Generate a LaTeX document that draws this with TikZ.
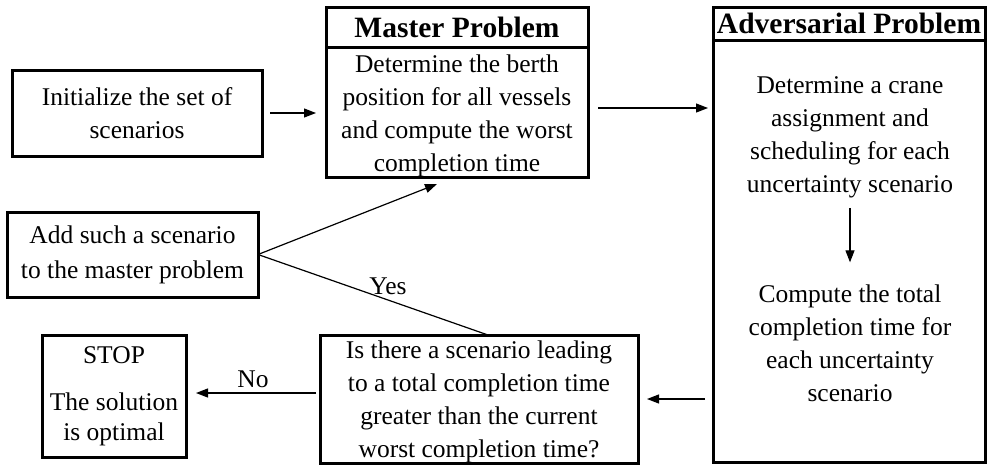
\documentclass[tikz,border=0pt]{standalone}
\usepackage{fontspec}
\setmainfont{Liberation Serif}
\usetikzlibrary{positioning,arrows.meta}

\begin{document}
\begin{tikzpicture}[x=1pt,y=-1pt,
  box/.style={draw,line width=3pt,outer sep=0pt,inner sep=0pt,align=center,
    font=\fontsize{25.5}{33}\selectfont},
  titlebox/.style={box,font=\fontsize{29.5}{33}\bfseries\selectfont},
  txt/.style={inner sep=0pt,align=center,font=\fontsize{25.5}{33}\selectfont},
  arr/.style={-{Triangle[length=12pt,width=9pt]},line width=1.2pt},
  plain/.style={line width=1.2pt}]
  \useasboundingbox (0,0) rectangle (987,466);
  \node[box,minimum width=250pt,minimum height=86pt] (init) at (137,113)
    {Initialize the set of\\scenarios};
  \node[titlebox,minimum width=262pt,minimum height=40pt] (mtitle) at (457,27) {Master Problem};
  \node[box,minimum width=262pt,minimum height=130pt,below=0pt of mtitle] (mbody) {};
  \node[txt] (mtext) at ([yshift=-4pt]mbody.center)
    {Determine the berth\\position for all vessels\\and compute the worst\\completion time};
  \node[titlebox,minimum width=272pt,minimum height=33pt] (atitle) at (849,23.5) {Adversarial Problem};
  \node[box,minimum width=272pt,minimum height=422pt,below=0pt of atitle] (abody) {};
  \node[txt] (crane) at (850,137)
    {Determine a crane\\assignment and\\scheduling for each\\uncertainty scenario};
  \node[txt] (total) at (850,343)
    {Compute the total\\completion time for\\each uncertainty\\scenario};
  \node[box,minimum width=251pt,minimum height=85pt] (add) at (132.5,254.5)
    {Add such a scenario\\[2pt]to the master problem};
  \node[box,minimum width=318pt,minimum height=128pt] (quest) at (479,399) {};
  \node[txt] (qtext) at ([yshift=-3pt]quest.center)
    {Is there a scenario leading\\to a total completion time\\greater than the current\\worst completion time?};
  \node[box,minimum width=144pt,minimum height=122pt] (stop) at (114,396)
    {STOP\\[14pt]The solution\\[-3pt]is optimal};

  \draw[arr,shorten <=8pt,shorten >=10pt] (init.east) -- (init.east -| mbody.west);
  \draw[arr,shorten <=10pt,shorten >=5pt] ([yshift=4pt]mbody.east) -- ([yshift=4pt]mbody.east -| abody.west);
  \draw[arr,shorten <=10pt,shorten >=22pt] (crane.south) -- (total.north);
  \draw[arr,shorten <=8pt,shorten >=9pt] (quest.east -| abody.west) -- (quest.east);
  \draw[arr,shorten <=4pt,shorten >=10pt] ([yshift=6pt]quest.west) -- ([yshift=6pt]quest.west -| stop.east)
    node[txt,midway,above=5pt] {No};
  \draw[arr] (add.east) -- ([xshift=-20pt,yshift=-7pt]mbody.south);
  \draw[plain] (add.east) -- ([xshift=9pt]quest.north)
    node[txt,pos=0.565,above=5pt] {Yes};
\end{tikzpicture}
\end{document}
